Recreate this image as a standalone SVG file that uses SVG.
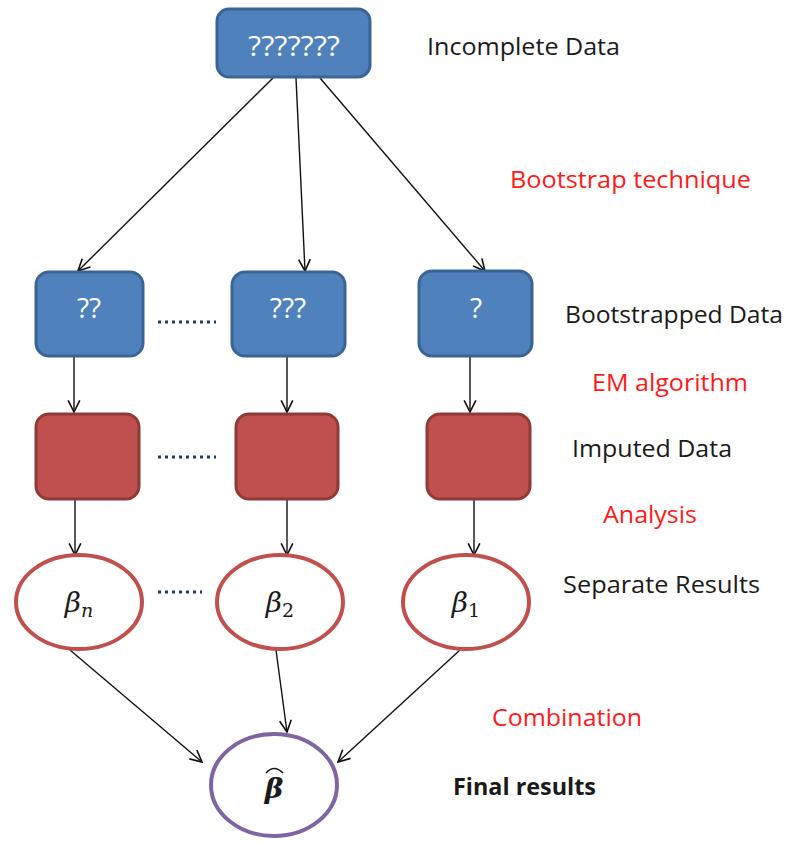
<svg xmlns="http://www.w3.org/2000/svg" width="792" height="841" viewBox="0 0 792 841">
<style>
.blue{fill:#4F81BD;stroke:#3A6496;stroke-width:3}
.red{fill:#C0504D;stroke:#8E3B38;stroke-width:3}
.res{fill:#fff;stroke:#C0504D;stroke-width:4}
.fin{fill:#fff;stroke:#8064A2;stroke-width:4}
.lbl{font-family:"Open Sans","Liberation Sans",sans-serif;font-size:24px;fill:#1a1a1a}
.rl{font-family:"Open Sans","Liberation Sans",sans-serif;font-size:24px;fill:#FF1A1A}
.q{font-family:"Open Sans","Liberation Sans",sans-serif;font-size:28px;fill:#fff;text-anchor:middle}
.beta{font-family:"DejaVu Serif","Liberation Serif",serif;font-style:italic;font-size:28px;fill:#1a1a1a;text-anchor:middle}
.con{stroke:#111;stroke-width:1.4;fill:none;marker-end:url(#ah)}
.dots{stroke:#1F3864;stroke-width:3;stroke-dasharray:3,4}
</style>
<defs>
<marker id="ah" viewBox="0 0 12 12" refX="11" refY="6" markerWidth="14" markerHeight="14" markerUnits="userSpaceOnUse" orient="auto">
<path d="M1,1 L11,6 L1,11" fill="none" stroke="#111" stroke-width="1.4"/>
</marker>
</defs>

<g id="connectors">
<line class="con" x1="273" y1="78" x2="78" y2="271"/>
<line class="con" x1="296" y1="78" x2="305" y2="271"/>
<line class="con" x1="320" y1="78" x2="485" y2="271"/>
<line class="con" x1="74" y1="357" x2="74" y2="412"/>
<line class="con" x1="287" y1="357" x2="287" y2="412"/>
<line class="con" x1="470" y1="357" x2="470" y2="412"/>
<line class="con" x1="75" y1="500" x2="75" y2="555"/>
<line class="con" x1="287" y1="500" x2="287" y2="555"/>
<line class="con" x1="474" y1="500" x2="474" y2="555"/>
<line class="con" x1="70" y1="650" x2="202" y2="762"/>
<line class="con" x1="276" y1="650" x2="287" y2="732"/>
<line class="con" x1="460" y1="650" x2="338" y2="762"/>
</g>

<g id="incomplete">
<rect class="blue" x="217" y="9" width="153" height="68" rx="12"/>
<text class="q" x="294" y="56" textLength="92" lengthAdjust="spacingAndGlyphs">???????</text>
</g>

<g id="boot-n">
<rect class="blue" x="36" y="272" width="107" height="84" rx="13"/>
<text class="q" x="89" y="318">??</text>
</g>
<g id="boot-2">
<rect class="blue" x="232" y="272" width="113" height="84" rx="13"/>
<text class="q" x="288" y="318">???</text>
</g>
<g id="boot-1">
<rect class="blue" x="419" y="271" width="113" height="85" rx="13"/>
<text class="q" x="476" y="318">?</text>
</g>
<line class="dots" x1="158" y1="322" x2="216" y2="322"/>

<g id="imp-n">
<rect class="red" x="36" y="414" width="103" height="85" rx="13"/>
</g>
<g id="imp-2">
<rect class="red" x="236" y="414" width="102" height="85" rx="13"/>
</g>
<g id="imp-1">
<rect class="red" x="427" y="414" width="103" height="85" rx="13"/>
</g>
<line class="dots" x1="158" y1="457" x2="216" y2="457"/>

<g id="res-n">
<ellipse class="res" cx="79" cy="602" rx="63" ry="47"/>
<text class="beta" x="79" y="612">β<tspan font-size="19" dy="5">n</tspan></text>
</g>
<g id="res-2">
<ellipse class="res" cx="280" cy="602" rx="63" ry="47"/>
<text class="beta" x="280" y="612">β<tspan font-size="19" font-style="normal" dy="5">2</tspan></text>
</g>
<g id="res-1">
<ellipse class="res" cx="466" cy="602" rx="63" ry="47"/>
<text class="beta" x="466" y="612">β<tspan font-size="19" font-style="normal" dy="5">1</tspan></text>
</g>
<line class="dots" x1="158" y1="592" x2="202" y2="592"/>

<g id="final">
<ellipse class="fin" cx="274" cy="785" rx="63" ry="51"/>
<text class="beta" x="274" y="798" font-weight="bold">β</text>
<path d="M266,773 Q274,764 283,773" fill="none" stroke="#1a1a1a" stroke-width="1.6"/>
</g>

<g id="labels">
<text class="lbl" x="427" y="55" textLength="193" lengthAdjust="spacingAndGlyphs">Incomplete Data</text>
<text class="rl" x="510" y="188" textLength="241" lengthAdjust="spacingAndGlyphs">Bootstrap technique</text>
<text class="lbl" x="565" y="323" textLength="218" lengthAdjust="spacingAndGlyphs">Bootstrapped Data</text>
<text class="rl" x="592" y="391" textLength="156" lengthAdjust="spacingAndGlyphs">EM algorithm</text>
<text class="lbl" x="572" y="457" textLength="160" lengthAdjust="spacingAndGlyphs">Imputed Data</text>
<text class="rl" x="603" y="523" textLength="94" lengthAdjust="spacingAndGlyphs">Analysis</text>
<text class="lbl" x="563" y="593" textLength="197" lengthAdjust="spacingAndGlyphs">Separate Results</text>
<text class="rl" x="492" y="726" textLength="150" lengthAdjust="spacingAndGlyphs">Combination</text>
<text class="lbl" x="453" y="795" font-weight="bold" textLength="143" lengthAdjust="spacingAndGlyphs">Final results</text>
</g>
</svg>
